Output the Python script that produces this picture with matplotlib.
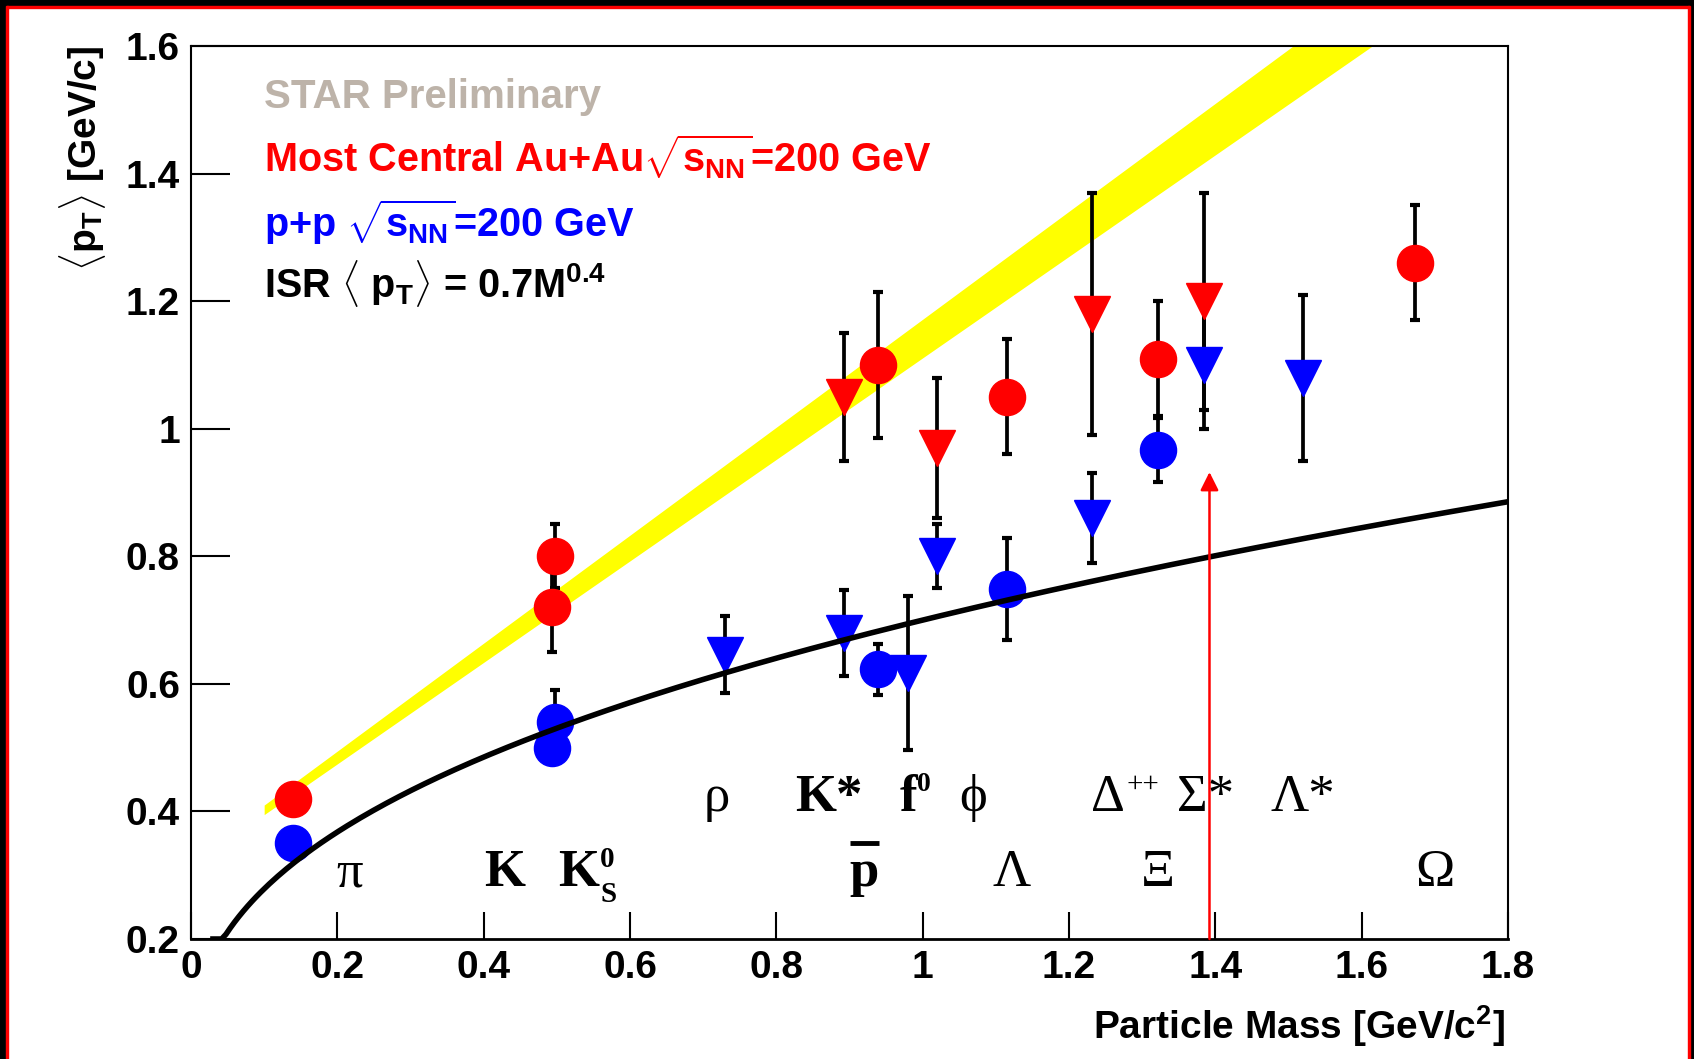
import numpy as np
import matplotlib
matplotlib.use("Agg")
import matplotlib.pyplot as plt
from matplotlib.patches import Rectangle
from matplotlib.ticker import FormatStrFormatter, MultipleLocator

plt.rcParams['font.family'] = ['Liberation Sans', 'DejaVu Sans']
plt.rcParams['font.weight'] = 'bold'
plt.rcParams['mathtext.fontset'] = 'custom'
plt.rcParams['mathtext.rm'] = 'Liberation Sans:bold'
plt.rcParams['mathtext.it'] = 'Liberation Sans:bold'
plt.rcParams['mathtext.bf'] = 'Liberation Sans:bold'

# Au+Au (most central), stable hadrons: pi, K, K0s, pbar, Lambda, Xi, Omega
auau_mass = [0.1396, 0.4937, 0.4976, 0.9383, 1.1157, 1.3217, 1.6725]
auau_pt = [0.42, 0.72, 0.80, 1.10, 1.05, 1.11, 1.26]
auau_err = [0.01, 0.07, 0.05, 0.115, 0.09, 0.09, 0.09]

# Au+Au resonances: K*, phi, Delta++, Sigma*
auau_res_mass = [0.892, 1.019, 1.232, 1.385]
auau_res_pt = [1.05, 0.97, 1.18, 1.20]
auau_res_err = [0.10, 0.11, 0.19, 0.17]

# p+p stable hadrons: pi, K, K0s, pbar, Lambda, Xi
pp_mass = [0.1396, 0.4937, 0.4976, 0.9383, 1.1157, 1.3217]
pp_pt = [0.35, 0.50, 0.54, 0.623, 0.749, 0.967]
pp_err = [0.01, 0.02, 0.05, 0.04, 0.08, 0.05]

# p+p resonances: rho, K*, f0, phi, Delta++, Sigma*, Lambda*
pp_res_mass = [0.73, 0.892, 0.980, 1.019, 1.232, 1.385, 1.5195]
pp_res_pt = [0.646, 0.68, 0.617, 0.80, 0.86, 1.10, 1.08]
pp_res_err = [0.06, 0.067, 0.12, 0.05, 0.07, 0.10, 0.13]

# yellow band (edges)
band_mass = [0.10, 1.70]
band_lo = [0.395, 1.668]
band_hi = [0.41, 1.764]

# ISR parametrisation <pT> = 0.7 M^0.4
isr_norm = 0.7
isr_power = 0.4
isr_mass_range = [0.03, 1.8]

# red arrow
arrow_mass = 1.392
arrow_top = 0.932

W, H = 1694, 1059
fig = plt.figure(figsize=(W / 100, H / 100), dpi=100)
ax = fig.add_axes([191 / W, 1 - 939 / H, (1508 - 191) / W, (939 - 46) / H])

# frame around the canvas
fig.add_artist(Rectangle((0, 1 - 6 / H), 1, 6 / H, transform=fig.transFigure, color='black', zorder=0))
fig.add_artist(Rectangle((0, 1 - 8 / H), 1, 2 / H, transform=fig.transFigure, color='red', zorder=0))
fig.add_artist(Rectangle((0, 0), 6 / W, 1, transform=fig.transFigure, color='black', zorder=0))
fig.add_artist(Rectangle((6 / W, 0), 2 / W, 1 - 6 / H, transform=fig.transFigure, color='red', zorder=0))
fig.add_artist(Rectangle((1 - 4 / W, 0), 4 / W, 1, transform=fig.transFigure, color='black', zorder=0))
fig.add_artist(Rectangle((1 - 6 / W, 0), 2 / W, 1 - 6 / H, transform=fig.transFigure, color='red', zorder=0))

ax.fill_between(band_mass, band_lo, band_hi, color='yellow', lw=0, zorder=1)

eb = dict(ms=26, ecolor='black', elinewidth=2.7, capsize=3.6, capthick=3, zorder=3)
ax.errorbar(pp_mass, pp_pt, yerr=pp_err, fmt='o', color='blue', mec='blue', **eb)
ax.errorbar(pp_res_mass, pp_res_pt, yerr=pp_res_err, fmt='v', color='blue', mec='blue', **eb)
ax.errorbar(auau_mass, auau_pt, yerr=auau_err, fmt='o', color='red', mec='red', **eb)
ax.errorbar(auau_res_mass, auau_res_pt, yerr=auau_res_err, fmt='v', color='red', mec='red', **eb)

m = np.linspace(isr_mass_range[0], isr_mass_range[1], 300)
ax.plot(m, np.maximum(isr_norm * m ** isr_power, 0.2), color='black', lw=4, zorder=4)

ax.annotate('', xy=(arrow_mass, arrow_top), xytext=(arrow_mass, 0.2),
            arrowprops=dict(arrowstyle='-|>,head_length=1.1,head_width=0.55', color='red',
                            lw=1.8, shrinkA=0, shrinkB=0), zorder=5)

# particle names
serif = ['Liberation Serif', 'DejaVu Serif']
y_low, y_up = 0.283, 0.401
for name, x, greek in [('π', 0.217, True), ('K', 0.429, False), ('Λ', 1.122, True),
                       ('Ξ', 1.322, True), ('Ω', 1.700, True), ('p', 0.920, False)]:
    ax.text(x, y_low, name, ha='center', va='baseline', fontsize=38, family=serif,
            weight='normal' if greek else 'bold')
for name, x, greek in [('ρ', 0.718, True), ('K*', 0.872, False), ('ϕ', 1.069, True),
                       ('Σ*', 1.387, True), ('Λ*', 1.519, True)]:
    ax.text(x, y_up, name, ha='center', va='baseline', fontsize=38, family=serif,
            weight='normal' if greek else 'bold')
ax.plot([0.900, 0.940], [0.351, 0.351], color='black', lw=3.5, solid_capstyle='butt')

# K0s
ax.text(0.5576, y_low, 'K', ha='right', va='baseline', fontsize=38, family=serif, weight='bold')
ax.annotate('0', (0.5576, y_low), xytext=(1, 14), textcoords='offset points',
            ha='left', va='baseline', fontsize=21, family=serif, weight='bold')
ax.annotate('S', (0.5576, y_low), xytext=(1, -11.5), textcoords='offset points',
            ha='left', va='baseline', fontsize=21, family=serif, weight='bold')
# f0
ax.text(0.992, y_up, 'f', ha='right', va='baseline', fontsize=38, family=serif, weight='bold')
ax.annotate('0', (0.992, y_up), xytext=(0, 14), textcoords='offset points',
            ha='left', va='baseline', fontsize=20, family=serif, weight='bold')
# Delta++
ax.text(1.277, y_up, 'Δ', ha='right', va='baseline', fontsize=38, family=serif, weight='normal')
ax.annotate('++', (1.277, y_up), xytext=(1, 14), textcoords='offset points',
            ha='left', va='baseline', fontsize=21, family=serif, weight='normal')

ax.set_xlim(0, 1.8)
ax.set_ylim(0.2, 1.6)
ax.xaxis.set_major_locator(MultipleLocator(0.2))
ax.yaxis.set_major_locator(MultipleLocator(0.2))
ax.xaxis.set_major_formatter(FormatStrFormatter('%g'))
ax.yaxis.set_major_formatter(FormatStrFormatter('%g'))
ax.tick_params(axis='x', direction='in', length=19.4, width=1.5, labelsize=28, pad=8)
ax.tick_params(axis='y', direction='in', length=28, width=1.5, labelsize=28, pad=8)
for s in ax.spines.values():
    s.set_linewidth(1.5)
ax.spines['bottom'].set_linewidth(2)

fig.text(1505 / W, 1 - 1039 / H, r'Particle Mass [GeV/c$^{2}$]', ha='right', va='baseline', fontsize=28)
fig.text(83 / W, 1 - 46 / H, r'$\langle$p$_{T}\rangle$ [GeV/c]', rotation=90, ha='center', va='top', fontsize=28)

x0 = 264 / W
fig.text(x0, 1 - 108 / H, 'STAR Preliminary', color='#bdb3a9', fontsize=29, va='baseline')
fig.text(x0, 1 - 172 / H, r'Most Central Au+Au$\sqrt{s_{NN}}$=200 GeV', color='red', fontsize=28.5, va='baseline')
fig.text(x0, 1 - 237 / H, r'p+p $\sqrt{s_{NN}}$=200 GeV', color='blue', fontsize=28.5, va='baseline')
fig.text(x0, 1 - 298 / H, r'ISR $\langle$ p$_{T}\rangle$ = 0.7M$^{0.4}$', color='black', fontsize=28.5, va='baseline')

fig.savefig('out.png', dpi=100)
